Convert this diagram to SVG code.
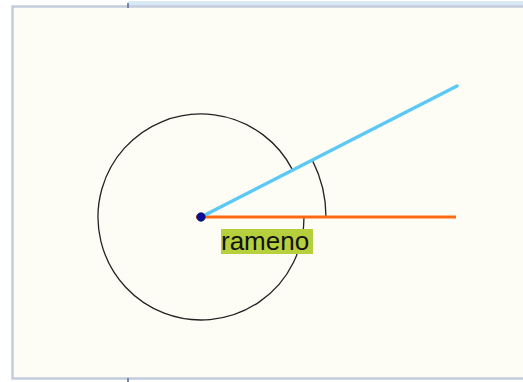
<svg xmlns="http://www.w3.org/2000/svg" width="523" height="382" viewBox="0 0 523 382">
<style>
.frame{fill:#fdfdf6;stroke:#c3cbdc;stroke-width:2.5}
.arc{fill:none;stroke:#222;stroke-width:1.3}
.lbl{font-family:"Liberation Sans",Arial,sans-serif;font-size:26px;fill:#111}
</style>
<rect x="0" y="0" width="523" height="382" fill="#ffffff"/>
<rect x="128" y="1" width="400" height="5" fill="#d9e9f8"/>
<rect class="frame" x="12.5" y="6.5" width="520" height="372"/>
<rect x="127" y="3" width="2" height="5" fill="#7a86a8"/>
<rect x="127" y="378" width="2" height="4" fill="#7a86a8"/>
<g id="connectors">
<path class="arc" d="M292.7 170.1 A103 103 0 1 0 304 217"/>
<path class="arc" d="M326 217 A125 125 0 0 0 312.3 160.1"/>
<line x1="196" y1="217" x2="456" y2="217" stroke="#ff6a10" stroke-width="3"/>
<line x1="201" y1="217" x2="457" y2="86" stroke="#5bc8f5" stroke-width="3.5" stroke-linecap="round"/>
</g>
<g id="center">
<circle cx="201" cy="217" r="4.2" fill="#0a0a9a" stroke="#001060" stroke-width="0.8"/>
</g>
<g id="label">
<rect x="221" y="229" width="92" height="25" fill="#b6cf3c"/>
<text class="lbl" x="221" y="250">rameno</text>
</g>
</svg>
